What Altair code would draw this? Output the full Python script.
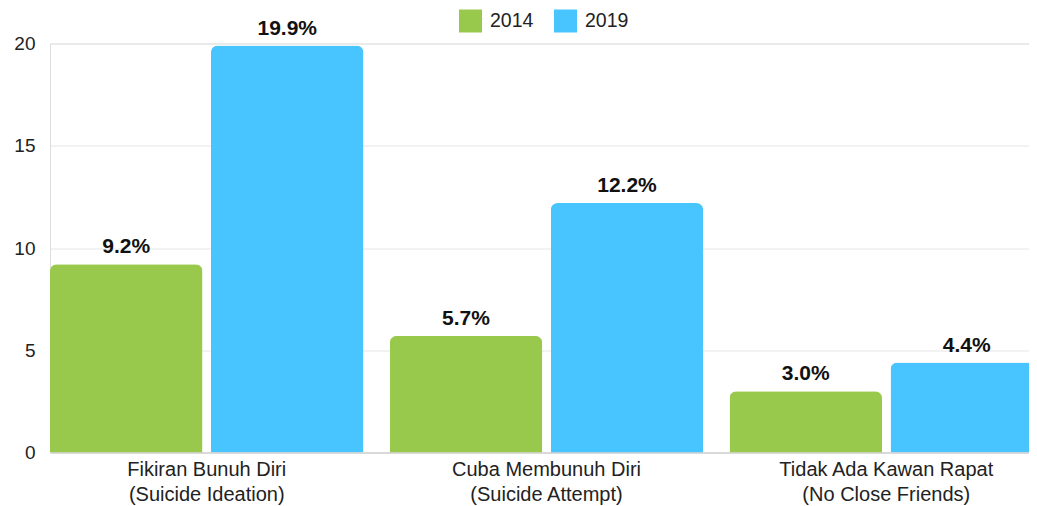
import altair as alt
import pandas as pd

categories = ["Fikiran Bunuh Diri|(Suicide Ideation)",
              "Cuba Membunuh Diri|(Suicide Attempt)",
              "Tidak Ada Kawan Rapat|(No Close Friends)"]
years = ["2014", "2019"]
values_2014 = [9.2, 5.7, 3.0]
values_2019 = [19.9, 12.2, 4.4]
colors = ["#98c84c", "#48c4fe"]

rows = []
for c, v1, v2 in zip(categories, values_2014, values_2019):
    rows.append({"cat": c, "year": "2014", "value": v1, "label": f"{v1:.1f}%"})
    rows.append({"cat": c, "year": "2019", "value": v2, "label": f"{v2:.1f}%"})
df = pd.DataFrame(rows)

FONT = "Liberation Sans"

x = alt.X("cat:N", sort=categories, title=None,
          scale=alt.Scale(paddingInner=0.0775, paddingOuter=0, range=[0, 993]),
          axis=alt.Axis(labelExpr="split(datum.label, '|')", labelAngle=0,
                        labelFontSize=20, labelColor="#222222", labelFont=FONT,
                        labelLineHeight=25, labelPadding=7, ticks=False, labelLimit=0,
                        domainColor="#c8c8c8", labelBaseline="top"))
xo = alt.XOffset("year:N", sort=years, scale=alt.Scale(paddingInner=0.053, paddingOuter=0))
y = alt.Y("value:Q", title=None,
          scale=alt.Scale(domain=[0, 20], nice=False),
          axis=alt.Axis(values=[0, 5, 10, 15, 20], labelFontSize=19, labelColor="#222222",
                        labelFont=FONT, labelPadding=15, ticks=False, domain=False,
                        gridColor="#e6e6e6", gridWidth=1.2))

bars = alt.Chart(df).mark_bar(cornerRadiusTopLeft=7, cornerRadiusTopRight=7).encode(
    x=x, xOffset=xo, y=y,
    color=alt.Color("year:N", sort=years,
                    scale=alt.Scale(domain=years, range=colors),
                    legend=alt.Legend(title=None, orient="none", legendX=409, legendY=-34,
                                      direction="horizontal", symbolType="square",
                                      symbolSize=529, symbolStrokeWidth=0,
                                      labelFontSize=19.5, labelFont=FONT, labelColor="#222222",
                                      columnPadding=20, labelOffset=8))
)

text = alt.Chart(df).mark_text(baseline="alphabetic", dy=-11, fontSize=21, fontWeight="bold",
                               font=FONT, color="#111111").encode(
    x=x, xOffset=xo, y=y, text="label:N"
)

chart = (bars + text).properties(
    width=979, height=409,
    autosize=alt.AutoSizeParams(type="none"),
    padding={"left": 42, "top": 35.5, "right": 0, "bottom": 60}
).configure_view(stroke=None).configure(font=FONT)

chart.save("out.html", embed_options={"renderer": "svg", "actions": False})
